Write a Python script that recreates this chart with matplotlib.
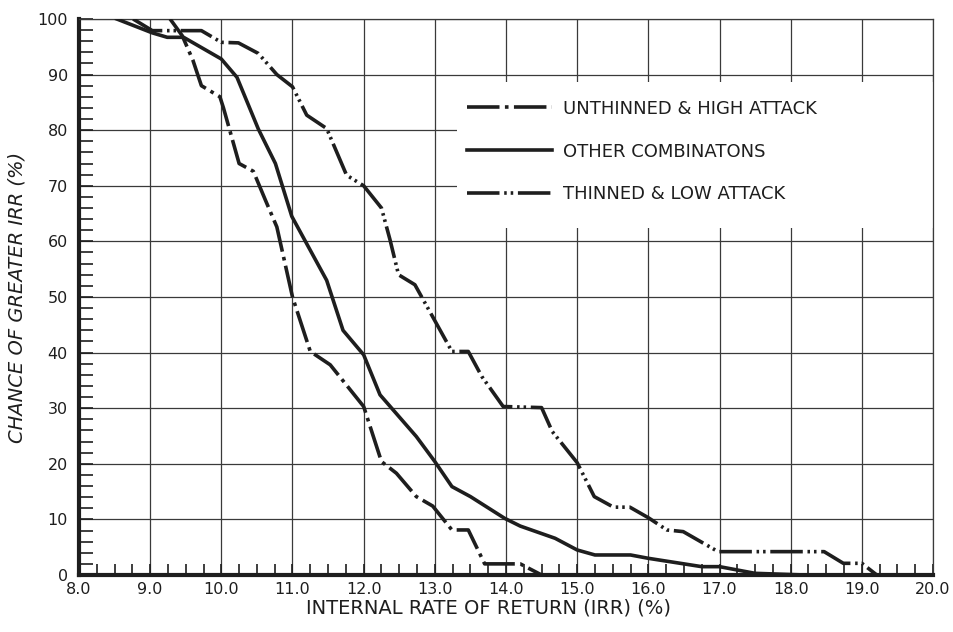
import numpy as np
import matplotlib
matplotlib.use("Agg")
import matplotlib.pyplot as plt
from matplotlib.patches import Rectangle
from matplotlib.ticker import MultipleLocator

# curves (IRR %, chance of greater IRR %)
unthinned_x = [9.28, 9.45, 9.60, 9.72, 9.98, 10.03, 10.25, 10.45, 10.62, 10.78, 11.00,
               11.25, 11.53, 12.00, 12.25, 12.46, 12.74, 12.97, 13.24, 13.47, 13.70,
               14.20, 14.50]
unthinned_y = [100, 97.0, 92.6, 88.0, 86.0, 84.0, 74.0, 72.6, 67.4, 62.6, 50.0,
               40.2, 37.8, 30.3, 20.4, 18.3, 14.1, 12.4, 8.1, 8.1, 2.0,
               2.0, 0.0]

other_x = [8.53, 9.03, 9.24, 9.47, 10.00, 10.22, 10.52, 10.76, 10.99, 11.48, 11.71,
           12.00, 12.23, 12.74, 13.00, 13.24, 13.50, 13.98, 14.20, 14.69, 15.00,
           15.25, 15.75, 16.00, 16.75, 17.00, 17.50, 18.20]
other_y = [100, 97.5, 96.7, 96.7, 92.8, 89.5, 80.2, 74.0, 64.5, 53.0, 44.0,
           39.6, 32.4, 24.9, 20.4, 15.9, 14.1, 10.2, 8.8, 6.6, 4.5,
           3.6, 3.6, 3.0, 1.5, 1.5, 0.3, 0.0]

thinned_x = [8.76, 9.03, 9.72, 10.00, 10.24, 10.52, 10.78, 11.00, 11.20, 11.48, 11.76,
             12.00, 12.25, 12.37, 12.49, 12.72, 13.24, 13.47, 13.66, 13.96, 14.50,
             14.65, 15.00, 15.24, 15.51, 15.74, 16.00, 16.26, 16.49, 16.98, 18.47,
             18.74, 19.00, 19.21]
thinned_y = [100, 97.9, 97.9, 95.8, 95.7, 93.8, 90.0, 87.8, 82.7, 80.3, 71.9,
             70.0, 66.0, 60.3, 54.0, 52.2, 40.2, 40.2, 35.7, 30.3, 30.1,
             25.8, 20.2, 14.1, 12.2, 12.2, 10.3, 8.1, 7.8, 4.2, 4.2,
             2.1, 2.1, 0.0]

labels = ["UNTHINNED & HIGH ATTACK", "OTHER COMBINATONS", "THINNED & LOW ATTACK"]
xticks = np.arange(8, 20.5, 1.0)
yticks = np.arange(0, 101, 10)

ink = "#1e1e1e"
plt.rcParams['font.family'] = 'DejaVu Sans'

fig = plt.figure(figsize=(9.54, 6.32), dpi=100)
ax = fig.add_axes([0.0828, 0.0902, 0.8952, 0.8798])

ax.set_xlim(8, 20)
ax.set_ylim(0, 100)
ax.set_axisbelow(True)
ax.grid(True, which='major', color='#3a3a3a', lw=0.9)

# white area behind the key
ax.add_patch(Rectangle((13.31, 62.4), 20 - 13.31, 88.7 - 62.4,
                       facecolor='white', edgecolor='none', zorder=1))

lw = 2.6
ax.plot(unthinned_x, unthinned_y, color=ink, lw=lw, zorder=3,
        linestyle=(0, (9, 1.5, 1.0, 1.5)), label=labels[0])
ax.plot(other_x, other_y, color=ink, lw=lw, zorder=3,
        linestyle='-', label=labels[1])
ax.plot(thinned_x, thinned_y, color=ink, lw=lw, zorder=3,
        linestyle=(0, (9, 1.3, 0.7, 1.1, 0.7, 1.3)), label=labels[2])

ax.xaxis.set_major_locator(MultipleLocator(1))
ax.xaxis.set_minor_locator(MultipleLocator(0.25))
ax.yaxis.set_major_locator(MultipleLocator(10))
ax.yaxis.set_minor_locator(MultipleLocator(2))
ax.set_xticks(xticks)
ax.set_xticklabels(["%.1f" % v for v in xticks])
ax.set_yticks(yticks)
ax.set_yticklabels(["%d" % v for v in yticks])

ax.tick_params(which='both', direction='in', top=False, right=False,
               colors=ink, labelsize=11.5, width=1.2)
ax.tick_params(axis='x', which='both', length=8, pad=5)
ax.tick_params(axis='y', which='both', length=10, pad=8)

for side in ['top', 'right']:
    ax.spines[side].set_linewidth(0.9)
    ax.spines[side].set_color('#3a3a3a')
ax.spines['left'].set_linewidth(3)
ax.spines['bottom'].set_linewidth(3)
ax.spines['left'].set_color(ink)
ax.spines['bottom'].set_color(ink)

ax.set_xlabel("INTERNAL RATE OF RETURN (IRR) (%)", fontsize=14, color=ink)
ax.xaxis.set_label_coords(0.48, -0.043)
ax.set_ylabel("CHANCE OF GREATER IRR (%)", fontsize=14, color=ink,
              fontstyle='oblique', labelpad=8)

leg = ax.legend(loc='upper left', bbox_to_anchor=(0.454, 0.855), frameon=False,
                fontsize=13, handlelength=4.7, handletextpad=0.65,
                labelspacing=1.38, borderpad=0, borderaxespad=0)
for t in leg.get_texts():
    t.set_color(ink)

fig.savefig("out.png", dpi=100, facecolor='white')
